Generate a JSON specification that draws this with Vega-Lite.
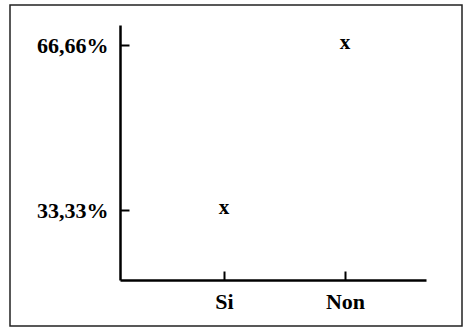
{
  "$schema": "https://vega.github.io/schema/vega-lite/v6.json",
  "autosize": "none",
  "width": 452,
  "height": 321,
  "padding": {"left": 10, "top": 5, "right": 2, "bottom": 1},
  "background": "white",
  "config": {
    "view": {"stroke": "#222", "strokeWidth": 1.5},
    "axis": {
      "labelFont": "Liberation Serif",
      "labelFontWeight": "bold",
      "labelFontSize": 22,
      "labelColor": "black",
      "domainColor": "black",
      "domainWidth": 2.5,
      "tickColor": "black",
      "tickWidth": 2,
      "grid": false,
      "title": null
    }
  },
  "data": {
    "values": [
      {"reponse": "Si", "pourcentage": 33.33},
      {"reponse": "Non", "pourcentage": 66.66}
    ]
  },
  "mark": {"type": "text", "text": "x", "font": "Liberation Serif", "fontWeight": "bold", "fontSize": 21, "color": "black", "baseline": "middle", "dy": -2},
  "encoding": {
    "x": {
      "field": "reponse",
      "type": "nominal",
      "sort": ["Si", "Non"],
      "scale": {"type": "point", "range": [110, 416], "padding": 0.764, "align": 0.562},
      "axis": {"offset": -46, "tickSize": -9, "labelPadding": 20, "labelAngle": 0, "labelBaseline": "top"}
    },
    "y": {
      "field": "pourcentage",
      "type": "quantitative",
      "scale": {"domain": [19.19, 70.7], "range": [275, 20], "nice": false, "zero": false},
      "axis": {
        "offset": -110,
        "values": [33.33, 66.66],
        "tickSize": -9,
        "labelPadding": 21,
        "labelExpr": "replace(format(datum.value, '.2f'), '.', ',') + '%'"
      }
    }
  }
}
